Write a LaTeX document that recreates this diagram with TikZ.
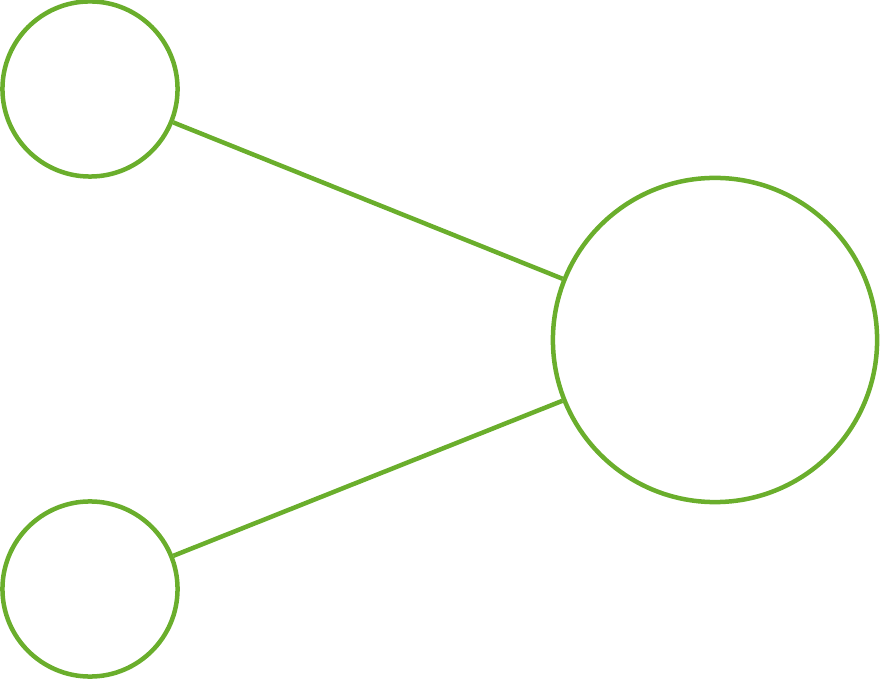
\documentclass[tikz,border=0pt]{standalone}
\usepackage{tikz}
\usetikzlibrary{positioning}
\definecolor{leafgreen}{RGB}{106, 174, 44}

\begin{document}
\begin{tikzpicture}[x=0.01cm, y=-0.01cm,
    small/.style={circle, draw=leafgreen, line width=0.045cm, minimum size=1.75cm, inner sep=0pt},
    big/.style={circle, draw=leafgreen, line width=0.045cm, minimum size=3.24cm, inner sep=0pt},
    link/.style={draw=leafgreen, line width=0.045cm}]
  \useasboundingbox (0,0) rectangle (880,680);

  \node[small] (top) at (90, 89) {};
  \node[small] (bottom) at (90, 589) {};
  \node[big] (hub) at (715, 340) {};

  \draw[link] (top) -- (hub);
  \draw[link] (bottom) -- (hub);
\end{tikzpicture}
\end{document}
